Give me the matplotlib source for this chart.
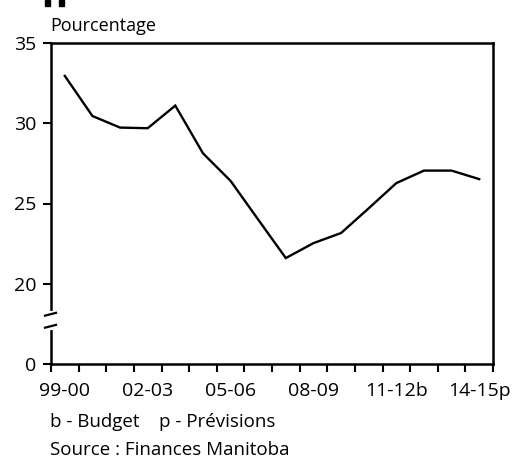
import numpy as np
import matplotlib.pyplot as plt
from matplotlib.patches import Rectangle

plt.rcParams['font.family'] = ['Open Sans', 'DejaVu Sans']

# Fiscal years and values (percent)
years = ['99-00', '00-01', '01-02', '02-03', '03-04', '04-05', '05-06', '06-07',
         '07-08', '08-09', '09-10', '10-11', '11-12b', '12-13', '13-14', '14-15p']
values = [32.95, 30.45, 29.73, 29.69, 31.1, 28.13, 26.41, 24.0,
          21.6, 22.53, 23.16, 24.7, 26.27, 27.05, 27.05, 26.52]
label_years = ['99-00', '02-03', '05-06', '08-09', '11-12b', '14-15p']
y_ticks = [0, 20, 25, 30, 35]


# broken y axis: 0-20 squeezed into the space of 5 units
def fwd(v):
    v = np.asarray(v, dtype=float)
    return np.where(v < 20, v / 4.0, v - 15.0)


def inv(u):
    u = np.asarray(u, dtype=float)
    return np.where(u < 5, u * 4.0, u + 15.0)


W, H = 517, 458
fig = plt.figure(figsize=(W / 100, H / 100), dpi=100)
ax = fig.add_axes([51 / W, (H - 364) / H, 442 / W, 321 / H])

x = np.arange(len(years))
ax.plot(x, values, color='black', lw=1.7, solid_joinstyle='miter')

ax.set_yscale('function', functions=(fwd, inv))
ax.set_ylim(0, 35)
ax.set_yticks(y_ticks)
ax.set_yticklabels([str(t) for t in y_ticks])

ax.set_xlim(-0.5, len(years) - 0.5)
ax.set_xticks(np.arange(-0.5, len(years), 1.0))
ax.set_xticklabels([])
ax.set_xticks([years.index(y) for y in label_years], minor=True)
ax.set_xticklabels(label_years, minor=True)

for s in ax.spines.values():
    s.set_linewidth(1.8)
ax.tick_params(axis='both', which='major', direction='out', length=5.5, width=1.5,
               labelsize=14)
ax.tick_params(axis='y', which='major', pad=5)
ax.tick_params(axis='x', which='minor', length=0, labelsize=14, pad=13)

# axis break on the left spine
yt = ax.get_yaxis_transform()
ax.plot([0, 0], [9.0, 12.8], transform=yt, color='white', lw=3, clip_on=False, zorder=5)
for yc in (9.4, 12.4):
    ax.plot([-0.0136, 0.0113], [yc - 0.35, yc + 0.35], transform=yt, color='black',
            lw=1.6, clip_on=False, zorder=6)

fig.text(50 / W, 1 - 31 / H, 'Pourcentage', fontsize=13, ha='left', va='baseline')
fig.text(50 / W, 1 - 427 / H, 'b - Budget    p - Prévisions', fontsize=13.5,
         ha='left', va='baseline')
fig.text(50 / W, 1 - 455 / H, 'Source : Finances Manitoba', fontsize=13.5,
         ha='left', va='baseline')

# remnants of a cropped title at the top edge
for x0 in (45, 59):
    fig.patches.append(Rectangle((x0 / W, 1 - 6 / H), 5 / W, 6 / H,
                                 transform=fig.transFigure, color='black'))

fig.savefig('out.png', dpi=100)
